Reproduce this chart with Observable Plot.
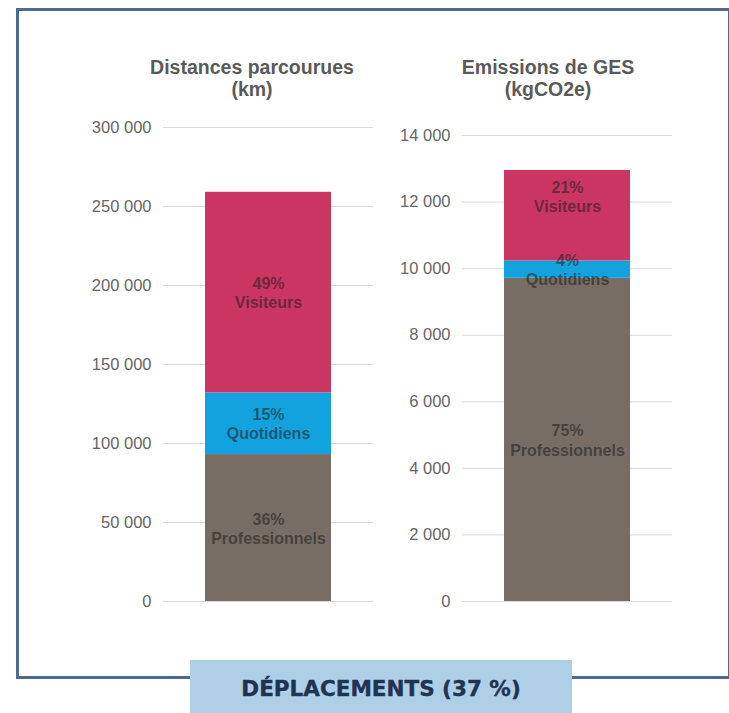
<!DOCTYPE html>
<html>
<head>
<meta charset="utf-8">
<script src="https://cdn.jsdelivr.net/npm/d3@7"></script>
<script src="https://cdn.jsdelivr.net/npm/@observablehq/plot@0.6"></script>
<style>
  html, body { margin: 0; padding: 0; background: #fff; }
  body { width: 729px; height: 713px; position: relative; overflow: hidden; font-family: "Liberation Sans", Arial, sans-serif; }
  .frame { position: absolute; left: 16px; top: 8px; width: 709px; height: 665px; border: 3px solid #4d6b8e; }
  .title { position: absolute; width: 300px; text-align: center; font-size: 19.5px; font-weight: bold; color: #5a5a5a; line-height: 22px; }
  .chart { position: absolute; top: 110px; }
  .badge { position: absolute; left: 190px; top: 660px; width: 382px; height: 53px; background: #afcfe7; color: #1f3352; font-family: "DejaVu Sans", sans-serif; font-weight: bold; font-size: 21.5px; text-align: center; line-height: 58px; -webkit-text-stroke: 0.4px #1f3352; }
</style>
</head>
<body>
<div class="frame"></div>
<div class="title" style="left:102px; top:56px;">Distances parcourues<br>(km)</div>
<div class="title" style="left:398px; top:56px;">Emissions de GES<br>(kgCO2e)</div>
<div class="chart" id="c1" style="left:21px;"></div>
<div class="chart" id="c2" style="left:320px;"></div>
<div class="badge">DÉPLACEMENTS (37 %)</div>
<script>
// Data
const categories = ["Professionnels", "Quotidiens", "Visiteurs"];
const colors = ["#786d64", "#12a2dd", "#ca3562"];
const distancesKm = [93000, 39000, 127000];
const distancesPct = ["36%", "15%", "49%"];
const emissionsKg = [9710, 520, 2720];
const emissionsPct = ["75%", "4%", "21%"];
const distanceTicks = [0, 50000, 100000, 150000, 200000, 250000, 300000];
const emissionTicks = [0, 2000, 4000, 6000, 8000, 10000, 12000, 14000];

const fr = d3.formatLocale({decimal: ",", thousands: " ", grouping: [3], currency: ["", " €"]});
const fmt = fr.format(",");
const FONT = "'Liberation Sans', Arial, sans-serif";

function build(values, pcts, ticks, yMax, marginTop, topLabelNearTop) {
  const rows = categories.map((c, i) => ({bar: "total", cat: c, value: values[i], label: pcts[i] + "\n" + c}));
  let acc = 0;
  rows.forEach(r => { r.y1 = acc; acc += r.value; r.y2 = acc; r.mid = (r.y1 + r.y2) / 2; });
  const textOpts = {x: "bar", text: "label", lineHeight: 1.2, fontWeight: "bold", fontSize: 16, fill: "#1e1e1e", fillOpacity: 0.58};
  const centered = topLabelNearTop ? rows.filter(r => r.cat !== "Visiteurs") : rows;
  const nearTop = topLabelNearTop ? rows.filter(r => r.cat === "Visiteurs") : [];
  return Plot.plot({
    width: 362,
    height: 501,
    marginLeft: 142,
    marginRight: 10,
    marginTop: marginTop,
    marginBottom: 10,
    style: {fontFamily: FONT, background: "transparent"},
    x: {type: "band", domain: ["total"], paddingInner: 0.25, paddingOuter: 0.25, axis: null},
    y: {domain: [0, yMax], axis: null},
    color: {domain: categories, range: colors},
    marks: [
      Plot.ruleY(ticks, {stroke: "#d9d9d9", strokeWidth: 1}),
      Plot.axisY({ticks: ticks, tickFormat: fmt, tickSize: 0, tickPadding: 12, fontSize: 16.5, fill: "#666", fontFamily: FONT}),
      Plot.barY(rows, {x: "bar", y1: "y1", y2: "y2", fill: "cat"}),
      Plot.text(centered, {...textOpts, y: "mid"}),
      Plot.text(nearTop, {...textOpts, y: "y2", dy: 26})
    ]
  });
}

document.getElementById("c1").appendChild(build(distancesKm, distancesPct, distanceTicks, 300000, 17, false));
document.getElementById("c2").appendChild(build(emissionsKg, emissionsPct, emissionTicks, 14000, 25, true));
</script>
</body>
</html>
